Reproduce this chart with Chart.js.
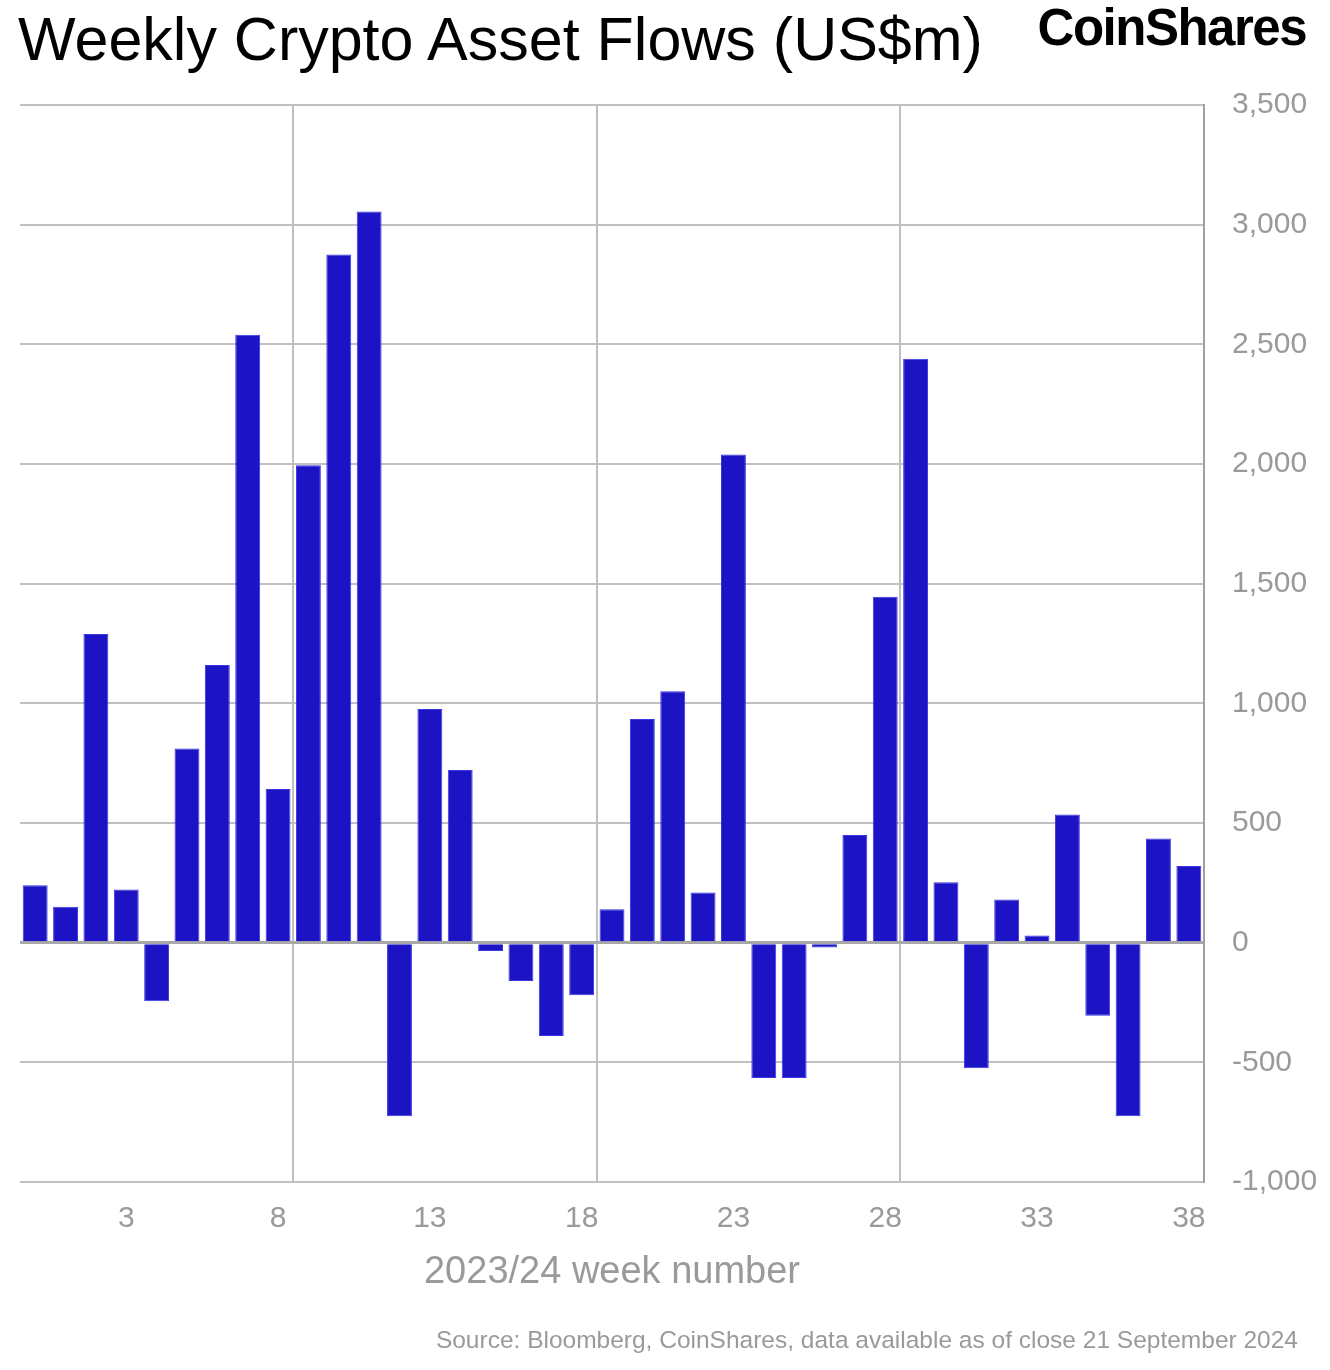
<!DOCTYPE html>
<html>
<head>
<meta charset="utf-8">
<script src="https://cdn.jsdelivr.net/npm/chart.js@4.4.1/dist/chart.umd.min.js"></script>
<style>
  html, body { margin: 0; padding: 0; background: #fff; }
  #wrap { position: relative; width: 1330px; height: 1370px; font-family: "Liberation Sans", Arial, sans-serif; }
  #wrap canvas { position: absolute; left: 0; top: 0; }
  .txt { position: absolute; white-space: nowrap; }
  #title { left: 18px; top: 9px; font-size: 61px; line-height: 61px; color: #000; }
  #logo { right: 24px; top: 2px; font-size: 51px; line-height: 51px; font-weight: bold; letter-spacing: -1.5px; color: #000; }
  #xtitle { left: 0; width: 1224px; text-align: center; top: 1251px; font-size: 38px; line-height: 38px; color: #9a9a9a; }
  #source { right: 32px; top: 1328px; font-size: 24.5px; line-height: 24.5px; color: #9a9a9a; }
</style>
</head>
<body>
<div id="wrap">
  <canvas id="myChart" width="1330" height="1370"></canvas>
  <div class="txt" id="title">Weekly Crypto Asset Flows (US$m)</div>
  <div class="txt" id="logo">CoinShares</div>
  <div class="txt" id="xtitle">2023/24 week number</div>
  <div class="txt" id="source">Source: Bloomberg, CoinShares, data available as of close 21 September 2024</div>
</div>
<script>
// week labels (first bar is the last week of 2023)
const weeks = ['52', '1', '2', '3', '4', '5', '6', '7', '8', '9', '10', '11', '12', '13', '14', '15', '16', '17', '18', '19',
  '20', '21', '22', '23', '24', '25', '26', '27', '28', '29', '30', '31', '32', '33', '34', '35', '36', '37', '38'];

// weekly flows, US$m
const flows = [240, 150, 1290, 222, -245, 811, 1160, 2540, 642, 1995, 2875, 3055, -725, 976, 721, -35, -160, -390, -220, 140,
  935, 1050, 210, 2040, -565, -565, -20, 450, 1445, 2440, 252, -525, 180, 30, 535, -305, -725, 435, 320];

const shownWeeks = ['3', '8', '13', '18', '23', '28', '33', '38'];
const yMin = -1000, yMax = 3500, yStep = 500;

const gray = '#9a9a9a';

const ctx = document.getElementById('myChart');
new Chart(ctx, {
  type: 'bar',
  data: {
    labels: weeks,
    datasets: [{
      data: flows,
      backgroundColor: '#1b13c4',
      borderColor: '#3a36e6',
      borderWidth: 1,
      barPercentage: 0.82,
      categoryPercentage: 1.0
    }]
  },
  options: {
    responsive: false,
    animation: false,
    layout: { padding: { left: 20, top: 105, right: 0, bottom: 0 } },
    plugins: { legend: { display: false }, tooltip: { enabled: false } },
    scales: {
      x: {
        offset: true,
        afterFit: (s) => { s.height = 188; },
        border: { display: false },
        grid: {
          offset: true,
          drawTicks: false,
          lineWidth: 2,
          color: (c) => (c.index === 9 || c.index === 19 || c.index === 29) ? '#c0c0c0' : 'rgba(0,0,0,0)'
        },
        ticks: {
          autoSkip: false,
          maxRotation: 0,
          padding: 19,
          color: gray,
          font: { family: 'Liberation Sans', size: 30 },
          callback: function (v, i) { return shownWeeks.includes(weeks[i]) ? weeks[i] : ''; }
        }
      },
      y: {
        position: 'right',
        min: yMin,
        max: yMax,
        afterFit: (s) => { s.width = 126; },
        border: { display: true, color: '#a0a0a0', width: 2 },
        grid: {
          drawTicks: false,
          lineWidth: (c) => c.tick && c.tick.value === 0 ? 3 : 2,
          color: (c) => c.tick && c.tick.value === 0 ? '#a8a8a8' : '#c0c0c0'
        },
        ticks: {
          stepSize: yStep,
          padding: 28,
          color: gray,
          font: { family: 'Liberation Sans', size: 30 },
          callback: (v) => v.toLocaleString('en-US')
        }
      }
    }
  }
});
</script>
</body>
</html>
